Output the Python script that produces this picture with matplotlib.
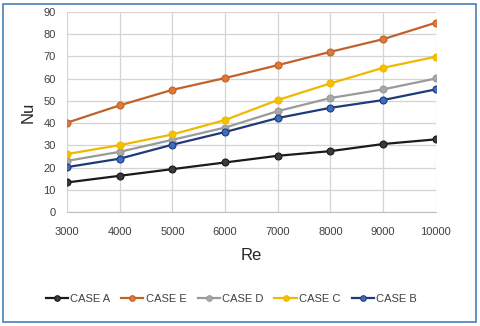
import matplotlib.pyplot as plt
from matplotlib.patches import Rectangle

re_vals = [3000, 4000, 5000, 6000, 7000, 8000, 9000, 10000]
case_a = [13.3, 16.3, 19.3, 22.3, 25.3, 27.4, 30.6, 32.7]
case_e = [40.2, 48.0, 55.0, 60.3, 66.1, 72.1, 77.8, 85.2]
case_d = [23.0, 27.1, 32.5, 38.0, 45.4, 51.3, 55.2, 60.1]
case_c = [26.1, 30.1, 34.9, 41.4, 50.4, 57.9, 64.9, 69.9]
case_b = [20.2, 24.0, 30.3, 36.0, 42.3, 46.9, 50.4, 55.2]

series = [
    ("CASE A", case_a, "#1a1a1a", "#3a3a3a"),
    ("CASE E", case_e, "#c0622a", "#e0783a"),
    ("CASE D", case_d, "#9a9a9a", "#a8a8a8"),
    ("CASE C", case_c, "#f0b800", "#f5c000"),
    ("CASE B", case_b, "#1f3a78", "#3e6dc0"),
]

plt.rcParams['font.family'] = ['Liberation Sans', 'DejaVu Sans']

fig = plt.figure(figsize=(4.8, 3.26), dpi=100)
ax = fig.add_axes([0.1396, 0.3497, 0.7684, 0.6133])

for name, vals, lc, mc in series:
    ax.plot(re_vals, vals, color=lc, lw=1.6, marker='o', ms=5,
            mfc=mc, mec=lc, mew=0.8, label=name)

ax.set_xlim(3000, 10000)
ax.set_ylim(0, 90)
ax.set_xticks(re_vals)
ax.set_yticks(range(0, 91, 10))
ax.grid(True, color='#d4d4d4', lw=0.9)
ax.set_axisbelow(True)
for s in ['top', 'right', 'left']:
    ax.spines[s].set_visible(False)
ax.spines['bottom'].set_color('#bfbfbf')
ax.tick_params(length=0, labelsize=8, colors='#404040', pad=8)
ax.tick_params(axis='x', pad=11)

ax.set_xlabel('Re', fontsize=12, color='#262626', labelpad=8)
ax.set_ylabel('Nu', fontsize=12, color='#262626', labelpad=6)

leg = ax.legend(loc='center', bbox_to_anchor=(0.445, -0.435), ncol=5,
                frameon=False, fontsize=8, handlelength=2.0, columnspacing=1.0,
                handletextpad=0.2, labelcolor='#404040', markerscale=0.8)

fig.patches.append(Rectangle((0.006, 0.012), 0.986, 0.976, transform=fig.transFigure,
                             fill=False, ec='#4a7ebb', lw=1.2))

fig.savefig('out.png', dpi=100)
